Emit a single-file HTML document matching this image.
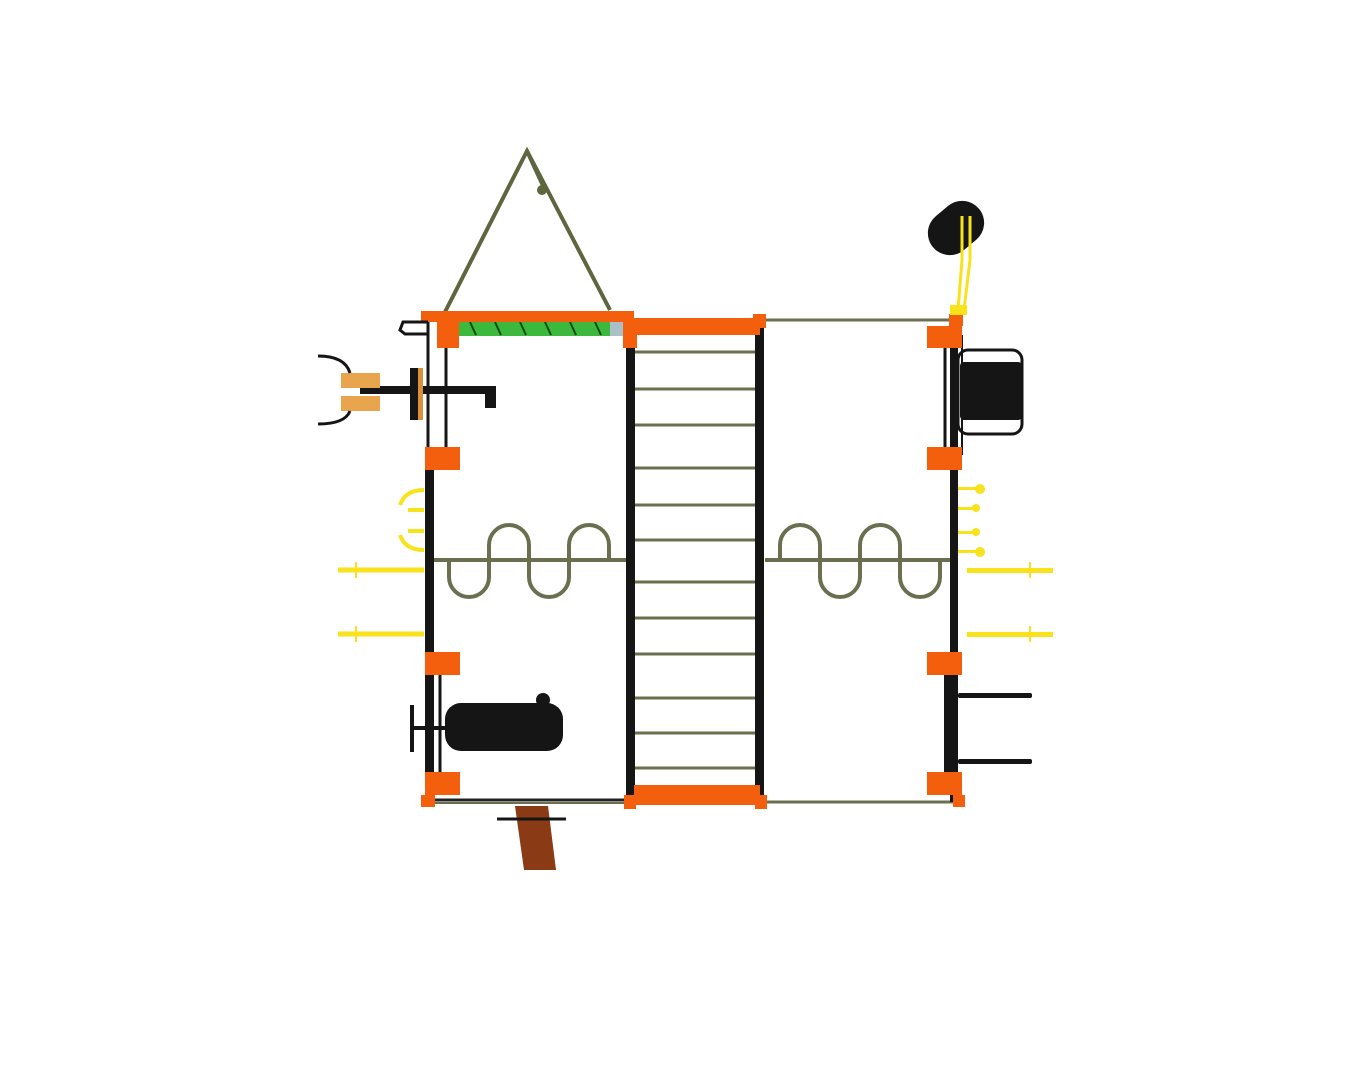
<!DOCTYPE html>
<html><head><style>html,body{margin:0;padding:0;background:#fff;width:1350px;height:1080px;overflow:hidden}</style></head>
<body>
<svg width="1350" height="1080" viewBox="0 0 1350 1080" xmlns="http://www.w3.org/2000/svg">
<rect width="1350" height="1080" fill="#fff"/>
<polyline points="445,312 527,151 610,310" fill="none" stroke="#5e6640" stroke-width="4"/>
<line x1="527" y1="151" x2="545" y2="190" stroke="#5e6640" stroke-width="4"/>
<circle cx="542" cy="190" r="5" fill="#5e6640"/>
<line x1="763" y1="320" x2="950" y2="320" stroke="#6b6f4f" stroke-width="3"/>
<line x1="765" y1="802" x2="955" y2="802" stroke="#6b6f4f" stroke-width="3"/>
<line x1="435" y1="800" x2="626" y2="800" stroke="#222" stroke-width="3"/>
<line x1="435" y1="803" x2="626" y2="803" stroke="#6b6f4f" stroke-width="2"/>
<g stroke="#6b6f4f" stroke-width="3">
<line x1="634" y1="352" x2="756" y2="352"/><line x1="634" y1="389" x2="756" y2="389"/>
<line x1="634" y1="425" x2="756" y2="425"/><line x1="634" y1="468" x2="756" y2="468"/>
<line x1="634" y1="505" x2="756" y2="505"/><line x1="634" y1="540" x2="756" y2="540"/>
<line x1="634" y1="582" x2="756" y2="582"/><line x1="634" y1="618" x2="756" y2="618"/>
<line x1="634" y1="654" x2="756" y2="654"/><line x1="634" y1="698" x2="756" y2="698"/>
<line x1="634" y1="733" x2="756" y2="733"/><line x1="634" y1="768" x2="756" y2="768"/>
</g>
<g fill="none" stroke="#6b6f4f" stroke-width="4">
<line x1="432" y1="560" x2="626" y2="560"/>
<path d="M449,560 V577 a20,20 0 0 0 40,0 V545 a20,20 0 0 1 40,0 V577 a20,20 0 0 0 40,0 V545 a20,20 0 0 1 40,0 V560"/>
<line x1="765" y1="560" x2="950" y2="560"/>
<path d="M780,560 V545 a20,20 0 0 1 40,0 V577 a20,20 0 0 0 40,0 V545 a20,20 0 0 1 40,0 V577 a20,20 0 0 0 40,0 V560"/>
</g>
<rect x="425" y="450" width="9" height="350" fill="#151515"/>
<line x1="428" y1="322" x2="428" y2="450" stroke="#151515" stroke-width="3"/>
<line x1="446" y1="335" x2="446" y2="455" stroke="#151515" stroke-width="3"/>
<line x1="440" y1="675" x2="440" y2="785" stroke="#151515" stroke-width="3"/>
<rect x="626" y="320" width="9" height="482" fill="#151515"/>
<rect x="755" y="320" width="9" height="482" fill="#151515"/>
<rect x="950" y="320" width="8" height="482" fill="#151515"/>
<line x1="945" y1="335" x2="945" y2="455" stroke="#151515" stroke-width="3"/>
<line x1="962" y1="335" x2="962" y2="455" stroke="#151515" stroke-width="2"/>
<rect x="944" y="675" width="7" height="110" fill="#151515"/>
<rect x="440" y="322" width="185" height="14" fill="#3cb83c"/>
<g stroke="#0c4a0c" stroke-width="2"><line x1="470" y1="322" x2="476" y2="335"/><line x1="495" y1="322" x2="501" y2="335"/><line x1="520" y1="322" x2="526" y2="335"/><line x1="545" y1="322" x2="551" y2="335"/><line x1="570" y1="322" x2="576" y2="335"/><line x1="595" y1="322" x2="601" y2="335"/></g>
<rect x="440" y="322" width="15" height="14" fill="#aac0c8"/><rect x="610" y="322" width="15" height="14" fill="#aac0c8"/>
<g fill="#f35f0c">
<rect x="421" y="311" width="213" height="11"/>
<rect x="634" y="318" width="126" height="17"/>
<rect x="634" y="785" width="126" height="20"/>
<rect x="437" y="322" width="22" height="26"/><rect x="623" y="322" width="14" height="26"/>
<rect x="753" y="314" width="13" height="14"/>
<rect x="425" y="447" width="35" height="23"/><rect x="425" y="652" width="35" height="23"/><rect x="425" y="772" width="35" height="23"/>
<rect x="421" y="795" width="14" height="12"/><rect x="624" y="795" width="12" height="14"/><rect x="755" y="795" width="12" height="14"/>
<rect x="927" y="326" width="35" height="22"/><rect x="927" y="447" width="35" height="23"/><rect x="927" y="652" width="35" height="23"/><rect x="927" y="772" width="35" height="23"/>
<rect x="949" y="314" width="14" height="12"/><rect x="953" y="795" width="12" height="12"/>
</g>
<path d="M428,322 H403 L400,330 L405,334 H428" fill="none" stroke="#151515" stroke-width="3"/>
<rect x="360" y="386" width="130" height="8" fill="#151515"/>
<rect x="485" y="386" width="11" height="22" fill="#151515"/>
<rect x="410" y="368" width="12" height="52" fill="#151515"/>
<rect x="418" y="368" width="5" height="52" fill="#d9913a"/>
<rect x="341" y="373" width="39" height="15" fill="#e8a54e"/>
<rect x="341" y="396" width="39" height="15" fill="#e8a54e"/>
<path d="M318,356 Q345,356 350,373" fill="none" stroke="#151515" stroke-width="3"/>
<path d="M318,424 Q345,424 350,411" fill="none" stroke="#151515" stroke-width="3"/>
<g fill="none" stroke="#f7e21b" stroke-width="4">
<path d="M424,490 Q405,490 400,505"/><path d="M424,550 Q405,550 400,535"/>
<line x1="408" y1="510" x2="424" y2="510"/><line x1="408" y1="531" x2="424" y2="531"/>
<line x1="338" y1="570" x2="424" y2="570" stroke-width="5"/>
<line x1="338" y1="634" x2="424" y2="634" stroke-width="5"/>
<line x1="356" y1="562" x2="356" y2="578" stroke-width="2"/><line x1="356" y1="626" x2="356" y2="642" stroke-width="2"/>
</g>
<rect x="445" y="703" width="118" height="48" rx="16" fill="#151515"/>
<circle cx="543" cy="700" r="7" fill="#151515"/>
<rect x="410" y="705" width="4" height="47" fill="#151515"/>
<rect x="414" y="726" width="32" height="4" fill="#151515"/>
<polygon points="515,806 548,806 556,870 524,870" fill="#8a3a14"/>
<line x1="497" y1="819" x2="566" y2="819" stroke="#151515" stroke-width="3"/>
<rect x="926" y="206" width="60" height="44" rx="22" transform="rotate(-40 956 228)" fill="#151515"/>
<g stroke="#f7e21b" stroke-width="3" fill="none">
<path d="M962,216 V260 L958,310"/><path d="M970,216 V260 L964,310"/>
</g>
<rect x="950" y="305" width="17" height="10" fill="#f7e21b"/>
<rect x="958" y="350" width="64" height="84" rx="10" fill="none" stroke="#151515" stroke-width="3"/>
<rect x="960" y="362" width="62" height="58" rx="4" fill="#151515"/>
<g fill="#f7e21b">
<circle cx="980" cy="489" r="5"/><circle cx="976" cy="508" r="4"/><circle cx="976" cy="532" r="4"/><circle cx="980" cy="552" r="5"/>
<rect x="958" y="487" width="18" height="3"/><rect x="958" y="507" width="18" height="3"/><rect x="958" y="531" width="18" height="3"/><rect x="958" y="550" width="18" height="3"/>
<rect x="967" y="568" width="86" height="5"/><rect x="967" y="632" width="86" height="5"/>
</g>
<line x1="1030" y1="562" x2="1030" y2="578" stroke="#f7e21b" stroke-width="2"/>
<line x1="1030" y1="626" x2="1030" y2="642" stroke="#f7e21b" stroke-width="2"/>
<rect x="958" y="693" width="74" height="5" rx="2" fill="#151515"/>
<rect x="958" y="759" width="74" height="5" rx="2" fill="#151515"/>
</svg>
</body></html>
